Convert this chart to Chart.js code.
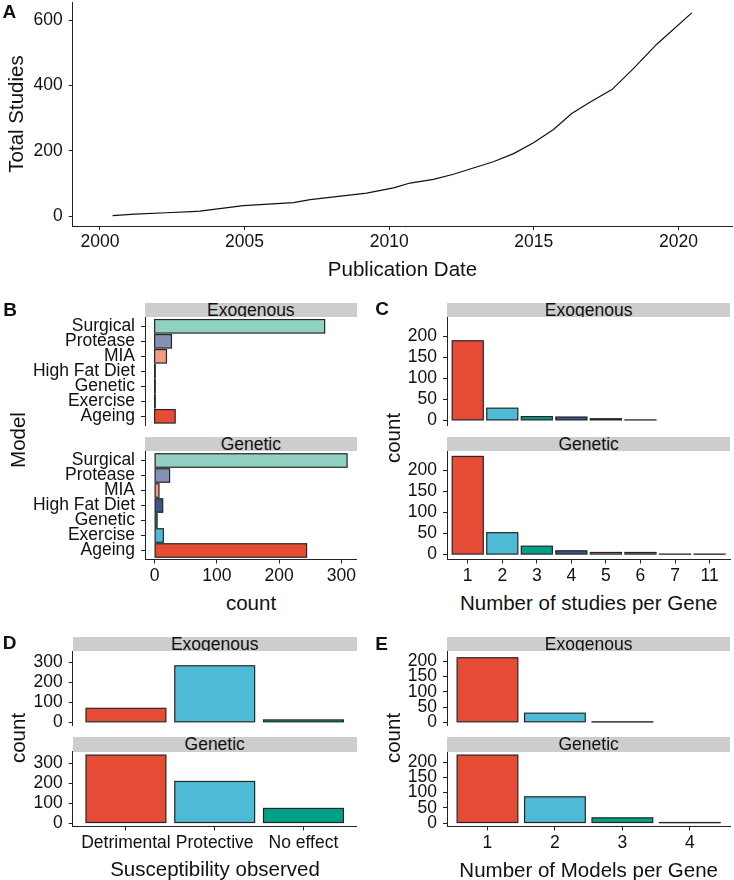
<!DOCTYPE html>
<html>
<head>
<meta charset="utf-8">
<script src="https://cdn.jsdelivr.net/npm/chart.js@4.4.0/dist/chart.umd.min.js"></script>
<style>
  body { margin: 0; background: #fff; width: 734px; height: 880px; position: relative; overflow: hidden;
         font-family: 'Liberation Sans', Arial, sans-serif; color: #111; }
  canvas { position: absolute; }
  .t { position: absolute; white-space: nowrap; line-height: 1; font-size: 20.5px; }
  .strip { position: absolute; background: #cdcdcd; overflow: hidden; text-align: center; font-size: 17.5px; white-space: nowrap; }
  .lab { position: absolute; font-weight: bold; font-size: 19px; line-height: 1; }
</style>
</head>
<body>
<script>
// Panel A - cumulative studies over time
const pubYear = [2000.44, 2001.2, 2002.3, 2003.17, 2003.46, 2004.96, 2006.69, 2007.27, 2009.22, 2010.15,
                 2010.72, 2011.53, 2012.22, 2012.91, 2013.6, 2014.3, 2014.99, 2015.68, 2016.31, 2016.95,
                 2017.7, 2018.44, 2019.25, 2020.46];
const totalStudies = [1, 6, 10, 13.5, 15, 32, 41, 50, 70, 86, 101, 112, 128, 147, 166, 191, 224, 265, 314, 349,
                      387, 451, 526, 622];
const yearTicks = [2000, 2005, 2010, 2015, 2020];
const studyTicksA = [0, 200, 400, 600];

// Panel B - model counts
const modelCats = ["Ageing", "Exercise", "Genetic", "High Fat Diet", "MIA", "Protease", "Surgical"];
const modelExo = [33, 1, 1, 1, 19, 27, 273];
const modelGen = [244, 14, 4, 13, 7, 24, 309];
const countTicksB = [0, 100, 200, 300];

// Panel C - studies per gene
const studyCats = ["1", "2", "3", "4", "5", "6", "7", "11"];
const studiesExo = [189, 29, 9, 8, 4, 1];
const studiesGen = [233, 52, 20, 9, 5, 5, 1, 1];
const countTicksC = [0, 50, 100, 150, 200];

// Panel D - susceptibility
const suscCats = ["Detrimental", "Protective", "No effect"];
const suscExo = [70, 283, 12];
const suscGen = [340, 208, 73];
const countTicksD = [0, 100, 200, 300];

// Panel E - models per gene
const modelsCats = ["1", "2", "3", "4"];
const modelsExo = [212, 30, 1];
const modelsGen = [223, 86, 17, 1];
const countTicksE = [0, 50, 100, 150, 200];

const npg = ["#E64B35", "#4DBBD5", "#00A087", "#3C5488", "#F39B7F", "#8491B4", "#91D1C2", "#DC0000"];
const FONT = "'Liberation Sans', Arial, sans-serif";

Chart.defaults.font.family = FONT;
Chart.defaults.animation = false;

// ggplot-style outline: stroke centred on each bar edge (also shows up on tiny bars)
const barOutline = {
  id: "barOutline",
  afterDatasetsDraw(chart) {
    const ctx = chart.ctx;
    ctx.save();
    ctx.strokeStyle = "#262626";
    ctx.lineWidth = 1.2;
    chart.getDatasetMeta(0).data.forEach((bar) => {
      const p = bar.getProps(["x", "y", "base", "width", "height", "horizontal"], true);
      let l, r, t, b;
      if (p.horizontal) {
        t = p.y - p.height / 2; b = p.y + p.height / 2;
        l = Math.min(p.x, p.base); r = Math.max(p.x, p.base);
      } else {
        l = p.x - p.width / 2; r = p.x + p.width / 2;
        t = Math.min(p.y, p.base); b = Math.max(p.y, p.base);
      }
      ctx.strokeRect(l, t, r - l, b - t);
    });
    ctx.restore();
  },
};

function addText(txt, x, y, rot) {
  const d = document.createElement("div");
  d.className = "t";
  d.textContent = txt;
  d.style.left = x + "px";
  d.style.top = y + "px";
  d.style.transform = "translate(-50%,-50%)" + (rot ? " rotate(-90deg)" : "");
  document.body.appendChild(d);
}

function addLabel(txt, x, y) {
  const d = document.createElement("div");
  d.className = "lab";
  d.textContent = txt;
  d.style.left = x + "px";
  d.style.top = y + "px";
  d.style.transform = "translate(0,-50%)";
  document.body.appendChild(d);
}

function addStrip(txt, l, t, w, h) {
  const d = document.createElement("div");
  d.className = "strip";
  d.textContent = txt;
  d.style.left = l + "px";
  d.style.top = t + "px";
  d.style.width = w + "px";
  d.style.height = h + "px";
  d.style.lineHeight = h + "px";
  document.body.appendChild(d);
}

// one axis, ggplot-like: axis line + outward ticks, no grid
function axis(pos, min, max, tickVals, fmt, size, show) {
  return {
    type: "linear", position: pos, min: min, max: max, bounds: "data", offset: false, display: show,
    grid: { display: true, drawOnChartArea: false, drawTicks: true, tickLength: 4, color: "#222", offset: false },
    border: { display: true, color: "#222", width: 1 },
    ticks: { font: { size: 17.5 }, color: "#111", padding: pos === "left" ? 6 : 2,
             autoSkip: false, maxRotation: 0, minRotation: 0, callback: fmt },
    afterBuildTicks: (s) => { s.ticks = tickVals.map((v) => ({ value: v })); },
    afterFit: (s) => {
      if (pos === "left") s.width = size; else s.height = size;
      s.paddingTop = 0; s.paddingBottom = 0; s.paddingLeft = 0; s.paddingRight = 0;
    },
  };
}

function makeChart(box, area, xH, config) {
  const c = document.createElement("canvas");
  c.width = box.r - box.l;
  c.height = box.b - box.t;
  c.style.left = box.l + "px";
  c.style.top = box.t + "px";
  document.body.appendChild(c);
  config.options.responsive = false;
  config.options.layout = { padding: { left: 0, top: area.t - box.t, right: box.r - area.r, bottom: box.b - area.b - xH } };
  config.options.plugins = { legend: { display: false }, tooltip: { enabled: false } };
  return new Chart(c, config);
}

const num = (v) => String(v);
const catFmt = (cats) => (v) => cats[v - 1];

function barSet(vals, horizontal) {
  return {
    data: vals.map((v, i) => (horizontal ? { x: v, y: i + 1 } : { x: i + 1, y: v })),
    backgroundColor: vals.map((v, i) => npg[i]),
    borderWidth: 0,
    barPercentage: 0.9,
    categoryPercentage: 1,
  };
}

// vertical faceted bar chart (C, D, E)
function vBars(box, area, vals, cats, yMin, yMax, yTicks, bottom) {
  const yW = area.l - box.l;
  return makeChart(box, area, bottom ? 30 : 0, {
    type: "bar",
    data: { datasets: [barSet(vals, false)] },
    options: {
      scales: {
        x: axis("bottom", 0.4, cats.length + 0.6, cats.map((c, i) => i + 1), catFmt(cats), bottom ? 30 : 0, bottom),
        y: axis("left", yMin, yMax, yTicks, num, yW, true),
      },
    },
    plugins: [barOutline],
  });
}

// horizontal faceted bar chart (B)
function hBars(box, area, vals, bottom) {
  const yW = area.l - box.l;
  return makeChart(box, area, bottom ? 30 : 0, {
    type: "bar",
    data: { datasets: [barSet(vals, true)] },
    options: {
      indexAxis: "y",
      scales: {
        x: axis("bottom", -15.45, 324.45, countTicksB, num, bottom ? 30 : 0, bottom),
        y: axis("left", 0.4, modelCats.length + 0.6, modelCats.map((c, i) => i + 1), catFmt(modelCats), yW, true),
      },
    },
    plugins: [barOutline],
  });
}

// ---- Panel A ----
makeChart({ l: 0, t: 0, r: 734, b: 290 }, { l: 72.7, t: 2.7, r: 732, b: 226 }, 40, {
  type: "line",
  data: {
    datasets: [{
      data: pubYear.map((x, i) => ({ x: x, y: totalStudies[i] })),
      borderColor: "#111", borderWidth: 1.2, pointRadius: 0, tension: 0, fill: false,
    }],
  },
  options: {
    scales: {
      x: axis("bottom", 1999.06, 2021.85, yearTicks, num, 40, true),
      y: axis("left", -30.5, 653, studyTicksA, num, 72.7, true),
    },
  },
});

// ---- Panel B ----
hBars({ l: 0, t: 300, r: 365, b: 432 }, { l: 145, t: 317.3, r: 356.7, b: 425.3 }, modelExo, false);
hBars({ l: 0, t: 440, r: 365, b: 590 }, { l: 145, t: 451.5, r: 356.7, b: 559.5 }, modelGen, true);

// ---- Panel C ----
vBars({ l: 367, t: 300, r: 734, b: 432 }, { l: 447, t: 317.3, r: 730.3, b: 425.3 }, studiesExo, studyCats, -11.65, 244.65, countTicksC, false);
vBars({ l: 367, t: 440, r: 734, b: 590 }, { l: 447, t: 451.5, r: 730.3, b: 559.5 }, studiesGen, studyCats, -11.65, 244.65, countTicksC, true);

// ---- Panel D ----
vBars({ l: 0, t: 640, r: 365, b: 733 }, { l: 72.7, t: 651, r: 356.7, b: 725.7 }, suscExo, suscCats, -17, 357, countTicksD, false);
vBars({ l: 0, t: 740, r: 365, b: 858 }, { l: 72.7, t: 751.7, r: 356.7, b: 826.4 }, suscGen, suscCats, -17, 357, countTicksD, true);

// ---- Panel E ----
vBars({ l: 367, t: 640, r: 734, b: 733 }, { l: 447, t: 651, r: 730.3, b: 725.7 }, modelsExo, modelsCats, -11.15, 234.15, countTicksE, false);
vBars({ l: 367, t: 740, r: 734, b: 858 }, { l: 447, t: 751.7, r: 730.3, b: 826.4 }, modelsGen, modelsCats, -11.15, 234.15, countTicksE, true);

// strips
addStrip("Exogenous", 145, 303.3, 211.7, 14);
addStrip("Genetic", 145, 437.3, 211.7, 14.2);
addStrip("Exogenous", 447, 303.3, 283.3, 14);
addStrip("Genetic", 447, 437.3, 283.3, 14.2);
addStrip("Exogenous", 72.7, 636.5, 284, 14.5);
addStrip("Genetic", 72.7, 737.2, 284, 14.5);
addStrip("Exogenous", 447, 636.5, 283.3, 14.5);
addStrip("Genetic", 447, 737.2, 283.3, 14.5);

// axis titles
addText("Total Studies", 16, 113.8, true);
addText("Publication Date", 402.5, 268.8, false);
addText("Model", 17.7, 440, true);
addText("count", 251, 602.5, false);
addText("count", 393, 438.3, true);
addText("Number of studies per Gene", 588.7, 603, false);
addText("count", 17.7, 738.3, true);
addText("Susceptibility observed", 215, 868.8, false);
addText("count", 393, 738.3, true);
addText("Number of Models per Gene", 588.7, 869.7, false);

// panel letters
addLabel("A", 2.5, 10.5);
addLabel("B", 3.3, 308.7);
addLabel("C", 375.3, 308.3);
addLabel("D", 2.7, 642.4);
addLabel("E", 375.3, 642.5);
</script>
</body>
</html>
